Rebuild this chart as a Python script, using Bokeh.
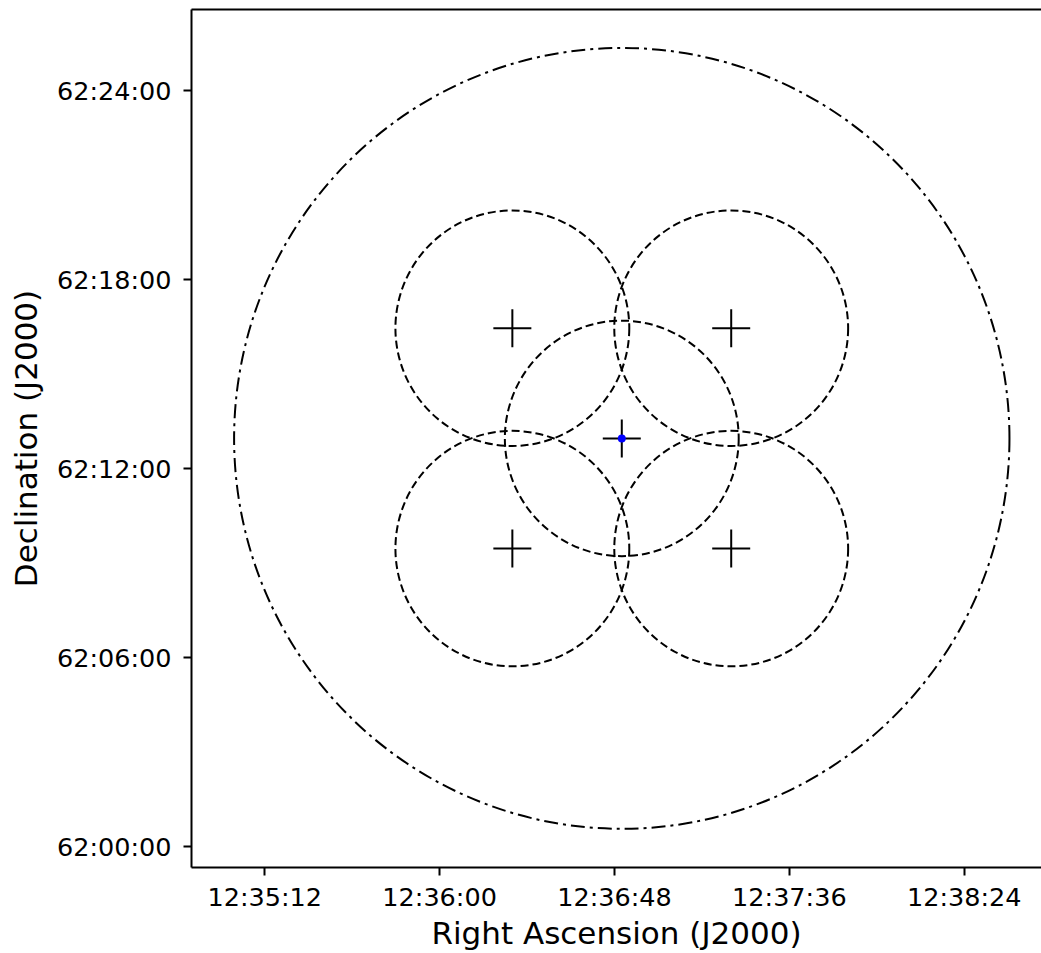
import math

from bokeh.embed import file_html
from bokeh.models import FixedTicker, LinearAxis, Range1d
from bokeh.plotting import figure
from bokeh.resources import INLINE

# Pointing layout around the field centre (sexagesimal J2000)
field_ra = "12:36:50.0"
field_dec = "62:12:58"

# Offsets of the five pointings from the field centre, arcmin on the sky
offset_east_arcmin = [-3.5, 3.5, 0.0, -3.5, 3.5]
offset_north_arcmin = [3.5, 3.5, 0.0, -3.5, -3.5]

# Beam radius of each pointing and radius of the outer survey circle, arcmin
beam_radius_arcmin = 3.74
outer_radius_arcmin = 12.4

# Axis tick labels
ra_tick_labels = ["12:35:12", "12:36:00", "12:36:48", "12:37:36", "12:38:24"]
dec_tick_labels = ["62:00:00", "62:06:00", "62:12:00", "62:18:00", "62:24:00"]


def hms_to_sec(s):
    h, m, sec = (float(v) for v in s.split(":"))
    return h * 3600 + m * 60 + sec


def dms_to_arcsec(s):
    d, m, sec = (float(v) for v in s.split(":"))
    return d * 3600 + m * 60 + sec


ra0 = hms_to_sec(field_ra)          # seconds of time
dec0 = dms_to_arcsec(field_dec)     # arcsec
cosd = math.cos(math.radians(dec0 / 3600.0))
arcsec_per_ra_sec = 15.0 * cosd

ra_pts = [ra0 + o * 60.0 / arcsec_per_ra_sec for o in offset_east_arcmin]
dec_pts = [dec0 + o * 60.0 for o in offset_north_arcmin]

ra_ticks = [hms_to_sec(t) for t in ra_tick_labels]
dec_ticks = [dms_to_arcsec(t) for t in dec_tick_labels]

p = figure(
    width=1041,
    height=953,
    output_backend="svg",
    toolbar_location=None,
    x_range=Range1d(45291.9, 45525.2),
    y_range=Range1d(223160.3, 224795.3),
    min_border_left=191,
    min_border_right=0,
    min_border_top=9,
    min_border_bottom=86,
    x_axis_label="Right Ascension (J2000)",
    y_axis_label="Declination (J2000)",
)
p.outline_line_color = None
p.xgrid.visible = False
p.ygrid.visible = False
p.background_fill_color = "white"
p.border_fill_color = "white"

p.xaxis.ticker = FixedTicker(ticks=ra_ticks)
p.xaxis.major_label_overrides = {t: l for t, l in zip(ra_ticks, ra_tick_labels)}
p.yaxis.ticker = FixedTicker(ticks=dec_ticks)
p.yaxis.major_label_overrides = {t: l for t, l in zip(dec_ticks, dec_tick_labels)}

for ax in (p.xaxis[0], p.yaxis[0]):
    ax.axis_line_width = 2
    ax.axis_line_color = "black"
    ax.major_tick_line_width = 2
    ax.major_tick_line_color = "black"
    ax.major_tick_out = 8
    ax.major_tick_in = 0
    ax.minor_tick_line_color = None
    ax.major_label_text_font = "DejaVu Sans"
    ax.major_label_text_font_size = "25.5px"
    ax.major_label_text_color = "black"
    ax.axis_label_text_font = "DejaVu Sans"
    ax.axis_label_text_font_size = "31px"
    ax.axis_label_text_font_style = "normal"
    ax.axis_label_text_color = "black"

p.xaxis.major_label_standoff = 6
p.xaxis.axis_label_standoff = 0
p.yaxis.major_label_standoff = 12
p.yaxis.axis_label_standoff = 10

# top spine
top = LinearAxis(ticker=FixedTicker(ticks=[]), axis_line_width=2,
                 axis_line_color="black", major_tick_line_color=None,
                 minor_tick_line_color=None, major_label_standoff=0)
p.add_layout(top, "above")

# outer survey circle
p.ellipse(x=[ra0], y=[dec0],
          width=[2 * outer_radius_arcmin * 60.0 / arcsec_per_ra_sec],
          height=[2 * outer_radius_arcmin * 60.0],
          fill_color=None, line_color="black", line_width=2,
          line_dash="14 5 3 5")

# beams of the five pointings
n = len(ra_pts)
p.ellipse(x=ra_pts, y=dec_pts,
          width=[2 * beam_radius_arcmin * 60.0 / arcsec_per_ra_sec] * n,
          height=[2 * beam_radius_arcmin * 60.0] * n,
          fill_color=None, line_color="black", line_width=2,
          line_dash="8 4")

# pointing centres
p.scatter(x=ra_pts, y=dec_pts, marker="cross", size=38,
          line_color="black", line_width=2)

# field centre
p.scatter(x=[ra0], y=[dec0], marker="circle", size=8,
          fill_color="blue", line_color=None)

open("out.html", "w").write(file_html(p, INLINE))
